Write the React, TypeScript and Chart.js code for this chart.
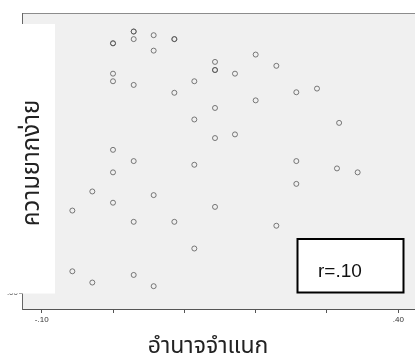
import React, { useEffect, useRef } from "react";
import { Chart, registerables } from "chart.js";

Chart.register(...registerables);

const xValues = [
  0.029, 0.029, 0.029, 0.057, 0, 0, 0.086, 0.086, 0.057, 0.143, 0.143, 0.143, 0.171, 0, 0,
  0.029, 0.114, 0.086, 0.143, 0.114, 0.143, 0.171, 0, 0.2, 0.229, 0.257, 0.286, 0.2, 0.317,
  0.029, 0, 0.114, -0.029, 0.057, 0, -0.057, 0.143, 0.029, 0.086, 0.114, -0.057, -0.029,
  0.029, 0.057, 0.257, 0.314, 0.343, 0.257, 0.229,
];
const yValues = [
  1.0, 1.0, 0.971, 0.986, 0.955, 0.955, 0.971, 0.971, 0.927, 0.884, 0.853, 0.853, 0.839, 0.839,
  0.81, 0.796, 0.81, 0.766, 0.708, 0.664, 0.593, 0.607, 0.548, 0.912, 0.869, 0.768, 0.782,
  0.737, 0.651, 0.505, 0.462, 0.491, 0.389, 0.375, 0.346, 0.316, 0.33, 0.273, 0.273, 0.171,
  0.084, 0.041, 0.07, 0.027, 0.505, 0.477, 0.462, 0.418, 0.258,
];
const xTickValues = [-0.1, 0, 0.1, 0.2, 0.3, 0.4];
const xTickLabels = ["-.10", "", "", "", "", ".40"];
const yTickValues = [0];
const yTickLabels = [".00"];
const xTitle = "อำนาจจำแนก";
const yTitle = "ความยากง่าย";
const rLabel = "r=.10";

const thaiFont = "Tahoma, 'Noto Sans Thai', 'DejaVu Sans', sans-serif";

const decorPlugin = {
  id: "decor",
  beforeDraw(chart: any) {
    const { ctx, chartArea: a } = chart;
    ctx.save();
    ctx.fillStyle = "#f0f0f0";
    ctx.fillRect(a.left, a.top, a.right - a.left, a.bottom - a.top);
    ctx.strokeStyle = "#8c8c8c";
    ctx.lineWidth = 1;
    ctx.beginPath();
    ctx.moveTo(a.left, Math.round(a.top) + 0.5);
    ctx.lineTo(a.right, Math.round(a.top) + 0.5);
    ctx.stroke();
    ctx.restore();
  },
  afterDraw(chart: any) {
    const { ctx } = chart;
    ctx.save();
    // white box over the y axis
    ctx.fillStyle = "#ffffff";
    ctx.fillRect(0, 24, 55, 269.5);
    // y title
    ctx.fillStyle = "#222";
    ctx.font = `24px ${thaiFont}`;
    ctx.textAlign = "center";
    ctx.textBaseline = "alphabetic";
    ctx.save();
    ctx.translate(38.5, 163);
    ctx.rotate(-Math.PI / 2);
    ctx.fillText(yTitle, 0, 0);
    ctx.restore();
    // x title
    ctx.font = `23px ${thaiFont}`;
    ctx.fillText(xTitle, 208, 353);
    // r box
    ctx.fillStyle = "#ffffff";
    ctx.fillRect(297.5, 239, 106, 53.5);
    ctx.strokeStyle = "#000";
    ctx.lineWidth = 2;
    ctx.strokeRect(297.5, 239, 106, 53.5);
    ctx.fillStyle = "#111";
    ctx.font = "19px 'Liberation Sans', Arial, sans-serif";
    ctx.textAlign = "left";
    ctx.fillText(rLabel, 318, 276.5);
    ctx.restore();
  },
};

export default function App() {
  const ref = useRef<HTMLCanvasElement | null>(null);
  useEffect(() => {
    if (!ref.current) return;
    const pts = xValues.map((x, i) => ({ x, y: yValues[i] }));
    const chart = new Chart(ref.current, {
      type: "scatter",
      data: {
        datasets: [
          {
            data: pts,
            pointStyle: "circle",
            pointRadius: 2.5,
            pointBorderWidth: 1,
            pointBorderColor: "rgba(80,80,80,0.75)",
            pointBackgroundColor: "rgba(0,0,0,0)",
          },
        ],
      },
      options: {
        animation: false,
        responsive: false,
        layout: { autoPadding: false, padding: { top: 13, left: 0, right: 0, bottom: 0 } },
        plugins: { legend: { display: false }, tooltip: { enabled: false } },
        scales: {
          x: {
            type: "linear",
            min: -0.1276,
            max: 0.4234,
            afterBuildTicks: (s: any) => {
              s.ticks = xTickValues.map((v) => ({ value: v }));
            },
            afterFit: (s: any) => {
              s.height = 48;
              s.paddingLeft = 0;
              s.paddingRight = 0;
            },
            ticks: {
              autoSkip: false,
              maxRotation: 0,
              padding: 2,
              color: "#333",
              font: { size: 8, family: "'Liberation Sans', Arial, sans-serif" },
              callback: (_v: any, i: number) => xTickLabels[i],
            },
            grid: { drawOnChartArea: false, drawTicks: true, tickLength: 4, color: "#555" },
            border: { display: true, color: "#555", width: 1 },
          },
          y: {
            type: "linear",
            min: -0.0601,
            max: 1.0708,
            afterBuildTicks: (s: any) => {
              s.ticks = yTickValues.map((v) => ({ value: v }));
            },
            afterFit: (s: any) => {
              s.width = 22;
              s.paddingTop = 0;
              s.paddingBottom = 0;
            },
            ticks: {
              padding: 1,
              color: "#333",
              font: { size: 8, family: "'Liberation Sans', Arial, sans-serif" },
              callback: (_v: any, i: number) => yTickLabels[i],
            },
            grid: { drawOnChartArea: false, drawTicks: true, tickLength: 3, color: "#555" },
            border: { display: true, color: "#666", width: 1 },
          },
        },
      },
      plugins: [decorPlugin],
    });
    return () => chart.destroy();
  }, []);
  return (
    <div style={{ position: "absolute", left: 0, top: 0, width: 415, height: 357, background: "#fff" }}>
      <canvas ref={ref} width={415} height={357} style={{ display: "block" }} />
    </div>
  );
}
